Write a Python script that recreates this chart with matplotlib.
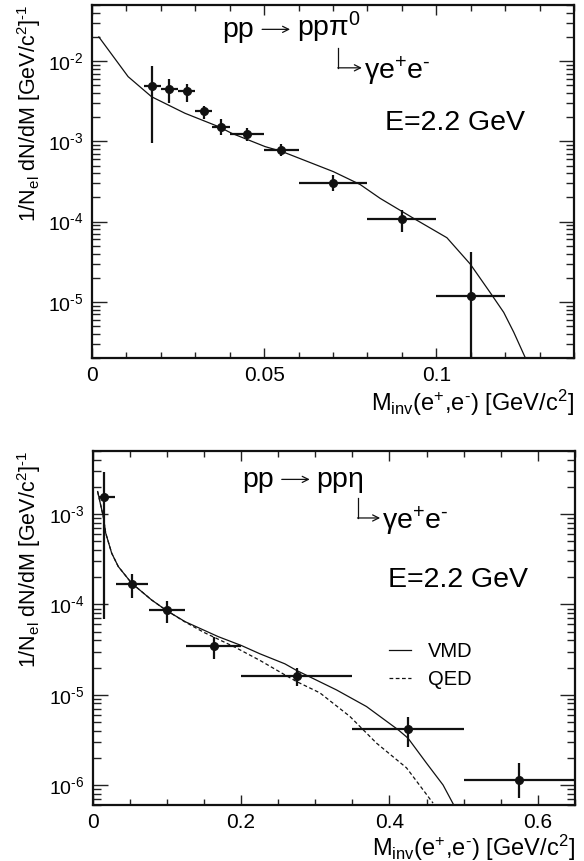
import numpy as np
import matplotlib
matplotlib.use('Agg')
import matplotlib.pyplot as plt
from matplotlib.ticker import MultipleLocator, LogLocator, FuncFormatter, NullFormatter

plt.rcParams['font.family'] = ['Liberation Sans', 'DejaVu Sans']
plt.rcParams['mathtext.fontset'] = 'custom'
plt.rcParams['mathtext.rm'] = 'Liberation Sans'
plt.rcParams['mathtext.it'] = 'Liberation Sans'
plt.rcParams['mathtext.bf'] = 'Liberation Sans'
plt.rcParams['mathtext.sf'] = 'Liberation Sans'
plt.rcParams['mathtext.default'] = 'regular'

# pp -> pp pi0, pi0 -> gamma e+ e-
pi0_x = [0.0175, 0.0225, 0.0275, 0.0325, 0.0375, 0.045, 0.055, 0.07, 0.09, 0.11]
pi0_xerr = [0.0025, 0.0025, 0.0025, 0.0025, 0.0025, 0.005, 0.005, 0.01, 0.01, 0.01]
pi0_y = [4.9e-3, 4.5e-3, 4.2e-3, 2.37e-3, 1.53e-3, 1.23e-3, 7.9e-4, 3.05e-4, 1.07e-4, 1.19e-5]
pi0_yhi = [8.7e-3, 5.9e-3, 5.2e-3, 2.76e-3, 1.9e-3, 1.46e-3, 9.3e-4, 3.8e-4, 1.38e-4, 4.2e-5]
pi0_ylo = [9.5e-4, 3.0e-3, 3.1e-3, 1.89e-3, 1.2e-3, 1.0e-3, 6.5e-4, 2.4e-4, 7.4e-5, 1.0e-6]

pi0_sim_x = [0.002, 0.0105, 0.0173, 0.027, 0.0367, 0.0406, 0.0503, 0.0551, 0.0701, 0.0779,
             0.0837, 0.0934, 0.1031, 0.1099, 0.1157, 0.1196, 0.1225, 0.1259]
pi0_sim_y = [2.0e-2, 6.4e-3, 3.6e-3, 2.24e-3, 1.53e-3, 1.26e-3, 8.6e-4, 7.5e-4, 4.2e-4, 2.9e-4,
             1.95e-4, 1.1e-4, 6.3e-5, 2.95e-5, 1.3e-5, 7.4e-6, 4.2e-6, 2.0e-6]

# pp -> pp eta, eta -> gamma e+ e-
eta_x = [0.0152, 0.0525, 0.0997, 0.1634, 0.2756, 0.425, 0.5746]
eta_xlo = [0.008, 0.031, 0.0758, 0.1257, 0.2, 0.35, 0.5]
eta_xhi = [0.03, 0.0749, 0.125, 0.2, 0.35, 0.5, 0.65]
eta_y = [1.55e-3, 1.69e-4, 8.7e-5, 3.5e-5, 1.62e-5, 4.16e-6, 1.15e-6]
eta_yhi = [2.96e-3, 2.2e-4, 1.09e-4, 4.4e-5, 1.96e-5, 5.65e-6, 1.75e-6]
eta_ylo = [6.9e-5, 1.17e-4, 6.3e-5, 2.5e-5, 1.24e-5, 2.67e-6, 7.2e-7]

vmd_x = [0.0067, 0.0143, 0.0175, 0.0256, 0.0345, 0.0525, 0.0795, 0.0997, 0.1245, 0.1692,
         0.2007, 0.2254, 0.259, 0.2747, 0.3286, 0.369, 0.412, 0.425, 0.4498, 0.4722, 0.4857]
vmd_y = [1.78e-3, 9.4e-4, 6.2e-4, 3.7e-4, 2.63e-4, 1.72e-4, 1.12e-4, 8.55e-5, 6.45e-5, 4.4e-5,
         3.5e-5, 2.84e-5, 2.2e-5, 1.86e-5, 1.13e-5, 7.4e-6, 4.07e-6, 3.3e-6, 1.75e-6, 1.0e-6, 6.2e-7]

qed_x = [0.0067, 0.0143, 0.0175, 0.0256, 0.0345, 0.0525, 0.0795, 0.0997, 0.1245, 0.15,
         0.1918, 0.2254, 0.259, 0.2747, 0.3061, 0.3466, 0.3825, 0.4229, 0.4318, 0.4587]
qed_y = [1.78e-3, 9.4e-4, 6.2e-4, 3.7e-4, 2.63e-4, 1.72e-4, 1.12e-4, 8.55e-5, 6.4e-5, 4.9e-5,
         3.36e-5, 2.4e-5, 1.66e-5, 1.4e-5, 1.05e-5, 5.75e-6, 2.91e-6, 1.55e-6, 1.24e-6, 6.3e-7]

HY = '\u2010'  # short hyphen for superscripts
ylabel = r'1/N$_{el}$ dN/dM [GeV/c$^{2}$]$^{' + HY + '1}$'
xlabel = r'M$_{inv}$(e$^{+}$,e$^{' + HY + '}$) [GeV/c$^{2}$]'
decay = r'$\gamma$e$^{+}$e$^{' + HY + '}$'
INK = '#111111'


def log_label(v, p):
    e = int(round(np.log10(v)))
    return r'$10^{' + (HY if e < 0 else '') + str(abs(e)) + '}$'


def style(ax, xmaj, xmin, xlpad):
    ax.set_yscale('log')
    ax.xaxis.set_major_locator(MultipleLocator(xmaj))
    ax.xaxis.set_minor_locator(MultipleLocator(xmin))
    ax.yaxis.set_major_locator(LogLocator(base=10, numticks=20))
    ax.yaxis.set_minor_locator(LogLocator(base=10, subs=np.arange(2, 10), numticks=20))
    ax.yaxis.set_minor_formatter(NullFormatter())
    ax.yaxis.set_major_formatter(FuncFormatter(log_label))
    ax.xaxis.set_major_formatter(FuncFormatter(lambda v, p: '%g' % v))
    ax.tick_params(which='both', direction='in', top=True, right=True, width=1.0, color='#222222')
    ax.tick_params(axis='x', which='major', length=7, labelsize=15, pad=6)
    ax.tick_params(axis='x', which='minor', length=4)
    ax.tick_params(axis='y', which='major', length=11, labelsize=14, pad=6)
    ax.tick_params(axis='y', which='minor', length=6)
    for s in ax.spines.values():
        s.set_linewidth(1.6)
        s.set_color(INK)
    ax.set_ylabel(ylabel, fontsize=15.5, loc='top', labelpad=4)
    ax.set_xlabel(xlabel, fontsize=17, loc='right', labelpad=xlpad)


def data(ax, x, xl, xh, y, yl, yh):
    x = np.array(x)
    y = np.array(y)
    ax.errorbar(x, y, xerr=[x - np.array(xl), np.array(xh) - x],
                yerr=[y - np.array(yl), np.array(yh) - y],
                fmt='o', color=INK, ms=5.5, elinewidth=1.6, capsize=0)


def arrow(ax, x0, y0, x1, y1):
    ax.annotate('', xy=(x1, y1), xytext=(x0, y0), xycoords='axes fraction',
                arrowprops=dict(arrowstyle='->', lw=0.9, color=INK,
                                shrinkA=0, shrinkB=0, mutation_scale=11))


def reaction(ax, final, pos, reac_arrow, hook, epos):
    # reaction line, hooked decay arrow, beam energy
    ax.text(pos[0], pos[1], 'pp', transform=ax.transAxes, fontsize=20.5)
    a0, a1, ay = reac_arrow
    arrow(ax, a0, ay, a1, ay)
    ax.text(a1 + 0.014, pos[1], 'pp' + final, transform=ax.transAxes, fontsize=20.5)
    hx, htop, hmid, hend = hook
    ax.plot([hx, hx], [htop, hmid], transform=ax.transAxes, color=INK, lw=0.9)
    arrow(ax, hx - 0.001, hmid, hend, hmid)
    ax.text(hend + 0.004, hmid - 0.033, decay, transform=ax.transAxes, fontsize=20.5)
    ax.text(epos[0], epos[1], 'E=2.2 GeV', transform=ax.transAxes, fontsize=20.5)


fig = plt.figure(figsize=(5.84, 8.61), dpi=100)

ax1 = fig.add_axes([0.1575, 0.5842, 0.8253, 0.41])
ax1.plot(pi0_sim_x, pi0_sim_y, color=INK, lw=0.9)
px = np.array(pi0_x)
pe = np.array(pi0_xerr)
data(ax1, px, px - pe, px + pe, pi0_y, pi0_ylo, pi0_yhi)
ax1.set_xlim(0, 0.14)
ax1.set_ylim(2e-6, 0.05)
style(ax1, 0.05, 0.01, 2)
reaction(ax1, r'$\pi^{0}$', (0.27, 0.91), (0.353, 0.411, 0.931),
         (0.511, 0.878, 0.822, 0.56), (0.608, 0.645))

ax2 = fig.add_axes([0.1587, 0.065, 0.8259, 0.4111])
ax2.plot(vmd_x, vmd_y, color=INK, lw=0.9, label='VMD')
ax2.plot(qed_x, qed_y, color=INK, lw=0.9, ls=(0, (3, 2)), label='QED')
data(ax2, eta_x, eta_xlo, eta_xhi, eta_y, eta_ylo, eta_yhi)
ax2.set_xlim(0, 0.65)
ax2.set_ylim(6e-7, 5e-3)
style(ax2, 0.2, 0.05, 0)
reaction(ax2, r'$\eta$', (0.309, 0.899), (0.392, 0.45, 0.92),
         (0.55, 0.868, 0.811, 0.596), (0.613, 0.616))
ax2.legend(loc='upper left', bbox_to_anchor=(0.615, 0.46), frameon=False, fontsize=14.5,
           handlelength=1.1, handletextpad=0.8, labelspacing=0.45, borderaxespad=0, borderpad=0)

fig.savefig('out.png', dpi=100)
